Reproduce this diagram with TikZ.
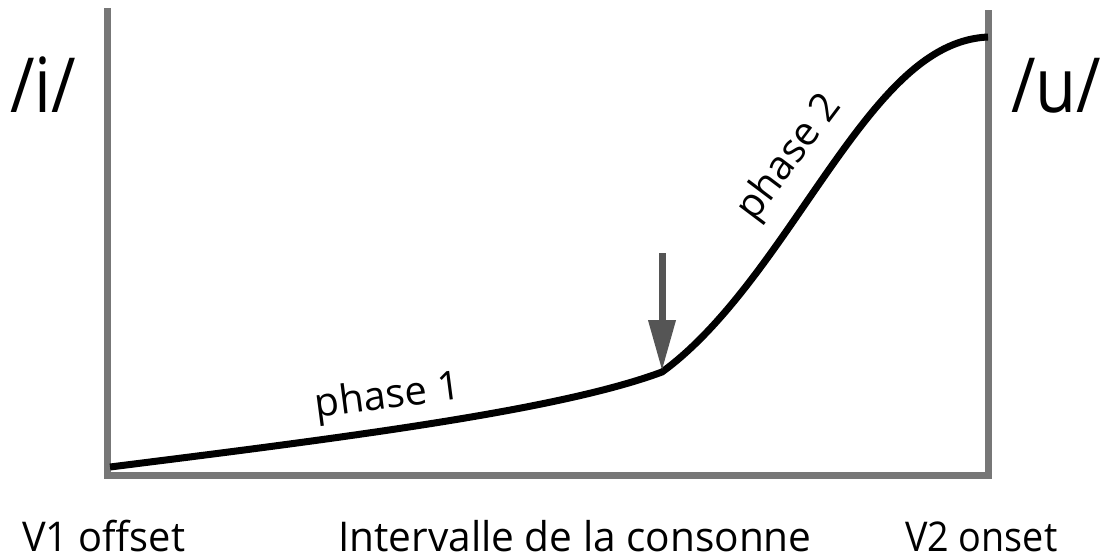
\documentclass[tikz,border=0pt]{standalone}
\usepackage{fontspec}
\setmainfont{Open Sans}
\usetikzlibrary{arrows.meta}
\definecolor{framegray}{HTML}{777777}
\definecolor{arrowgray}{HTML}{555555}
\tikzset{
  frameline/.style={draw=framegray, line width=7pt, line join=miter, line cap=butt},
  curveline/.style={draw=black, line width=7pt, line cap=butt},
  markarrow/.style={draw=arrowgray, line width=7pt, -{Triangle[length=51pt,width=26pt]}, arrowgray},
  axislabel/.style={font=\fontsize{41}{48}\selectfont, inner sep=0pt, anchor=base west},
  vowel/.style={font=\fontsize{76}{86}\selectfont, inner sep=0pt, anchor=base west, xscale=0.88},
  phaselabel/.style={font=\fontsize{40}{46}\selectfont, inner sep=0pt},
}
\begin{document}
\begin{tikzpicture}[x=1pt,y=-1pt]
\useasboundingbox (0,0) rectangle (1102,557);
% frame
\coordinate (lt) at (107,8);
\coordinate (lb) at (107,475);
\coordinate (rb) at (988,475);
\coordinate (rt) at (988,10);
\draw[frameline] (lt) -- (lb) -- (rb) -- (rt);
% curve
\coordinate (start) at (110,467);
\coordinate (kink) at (662,372);
\coordinate (mid) at (810,197);
\coordinate (end) at (988,37);
\draw[curveline] (start) .. controls (350,437) and (560,410) .. (kink)
  .. controls (720,330) and (770,255) .. (mid)
  .. controls (870,110) and (920,40) .. (end);
% arrow
\coordinate (arrowtop) at (662,253);
\draw[markarrow] (arrowtop) -- ([yshift=1pt]kink);
% labels
\node[vowel] (i) at (10,112) {/i/};
\node[vowel] (u) at (1011,112) {/u/};
\node[axislabel, xscale=0.97] (v1) at (22,551) {V1 offset};
\node[axislabel, xscale=0.99] (int) at (338,551) {Intervalle de la consonne};
\node[axislabel, xscale=0.92] (v2) at (905,551) {V2 onset};
\node[phaselabel, rotate=7.5] (p1) at (388,398) {phase 1};
\node[phaselabel, rotate=53] (p2) at (790,158) {phase 2};
\end{tikzpicture}
\end{document}
